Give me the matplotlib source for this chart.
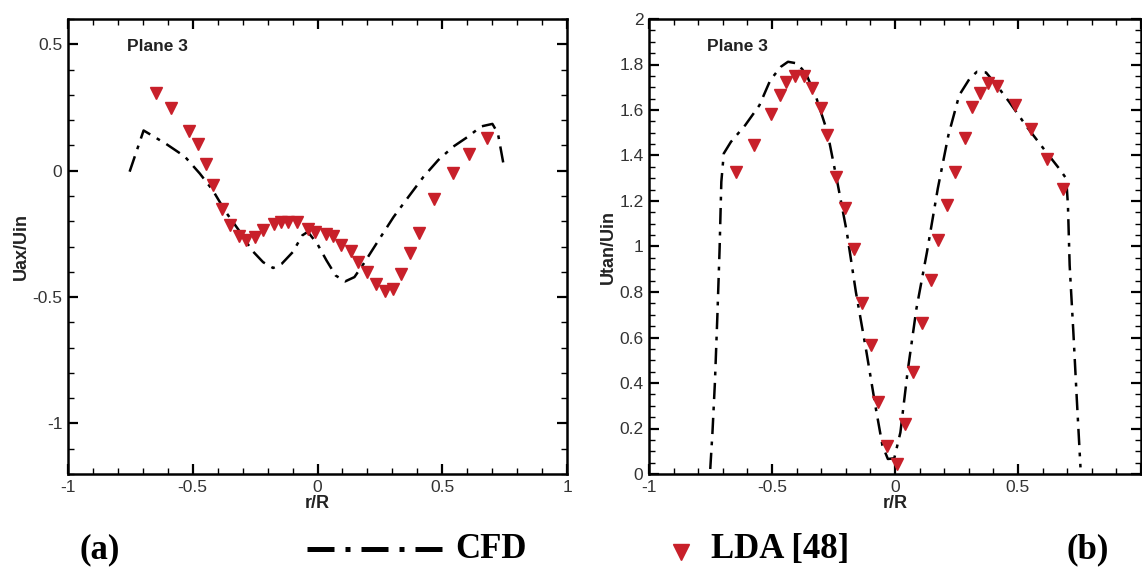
import matplotlib
matplotlib.use("Agg")
import matplotlib.pyplot as plt
from matplotlib.lines import Line2D
from matplotlib.ticker import MultipleLocator

# Plane 3, axial velocity (a)
ax_lda_r = [-0.649, -0.587, -0.516, -0.477, -0.447, -0.417, -0.383, -0.350, -0.315,
            -0.287, -0.251, -0.218, -0.176, -0.148, -0.117, -0.084, -0.039, -0.009,
            0.033, 0.061, 0.096, 0.133, 0.163, 0.197, 0.233, 0.269, 0.302, 0.335,
            0.372, 0.405, 0.466, 0.544, 0.607, 0.679]
ax_lda_u = [0.307, 0.248, 0.155, 0.105, 0.025, -0.058, -0.150, -0.213, -0.260,
            -0.273, -0.262, -0.233, -0.212, -0.203, -0.203, -0.203, -0.229, -0.244,
            -0.249, -0.260, -0.293, -0.318, -0.362, -0.401, -0.448, -0.477, -0.468,
            -0.408, -0.325, -0.245, -0.114, -0.011, 0.065, 0.131]
ax_cfd_r = [-0.753, -0.697, -0.607, -0.532, -0.472, -0.420, -0.368, -0.315, -0.263,
            -0.218, -0.178, -0.143, -0.099, -0.061, -0.039, -0.001, 0.036, 0.073,
            0.111, 0.148, 0.185, 0.245, 0.305, 0.365, 0.425, 0.484, 0.544, 0.604,
            0.656, 0.701, 0.723, 0.746]
ax_cfd_u = [-0.004, 0.159, 0.106, 0.056, -0.011, -0.077, -0.163, -0.236, -0.315,
            -0.362, -0.385, -0.368, -0.322, -0.256, -0.242, -0.289, -0.355, -0.415,
            -0.438, -0.421, -0.368, -0.275, -0.183, -0.103, -0.024, 0.042, 0.095,
            0.135, 0.175, 0.185, 0.148, 0.023]

# Plane 3, tangential velocity (b)
tan_lda_r = [-0.645, -0.572, -0.503, -0.468, -0.443, -0.406, -0.370, -0.336, -0.300,
             -0.278, -0.241, -0.203, -0.167, -0.133, -0.096, -0.068, -0.033, 0.009,
             0.039, 0.072, 0.109, 0.148, 0.174, 0.210, 0.243, 0.283, 0.314, 0.345,
             0.377, 0.413, 0.486, 0.554, 0.616, 0.684]
tan_lda_u = [1.328, 1.445, 1.582, 1.668, 1.721, 1.751, 1.751, 1.698, 1.610,
             1.489, 1.306, 1.170, 0.988, 0.753, 0.565, 0.315, 0.125, 0.044,
             0.220, 0.448, 0.665, 0.851, 1.027, 1.184, 1.328, 1.475, 1.614, 1.673,
             1.717, 1.707, 1.624, 1.516, 1.384, 1.252]
tan_cfd_r = [-0.751, -0.742, -0.732, -0.722, -0.713, -0.706, -0.696, -0.667, -0.609,
             -0.551, -0.507, -0.464, -0.435, -0.399, -0.362, -0.319, -0.275, -0.232,
             -0.196, -0.159, -0.116, -0.080, -0.051, -0.029, -0.003, 0.022, 0.051,
             0.087, 0.130, 0.174, 0.217, 0.261, 0.304, 0.333, 0.370, 0.413, 0.464,
             0.536, 0.609, 0.667, 0.696, 0.703, 0.710, 0.725, 0.739, 0.754]
tan_cfd_u = [0.022, 0.183, 0.404, 0.697, 0.990, 1.284, 1.409, 1.460, 1.533,
             1.621, 1.731, 1.790, 1.812, 1.805, 1.761, 1.651, 1.504, 1.269,
             1.064, 0.800, 0.536, 0.301, 0.125, 0.066, 0.069, 0.183, 0.448,
             0.726, 0.976, 1.255, 1.489, 1.665, 1.739, 1.768, 1.765, 1.709, 1.636,
             1.526, 1.423, 1.343, 1.299, 1.181, 0.917, 0.624, 0.330, 0.029]

RED = "#C8202A"
TICK_GREY = "#333333"
CFD_DASH = (0, (6.5, 3, 1.5, 3))

plt.rcParams["font.family"] = ["Liberation Sans", "DejaVu Sans"]

fig = plt.figure(figsize=(11.42, 5.68), dpi=100)


def style_axes(ax, ylabel, xmin, xmax, ymin, ymax, ymajor, yminor, hide_last_x=False):
    ax.set_xlim(xmin, xmax)
    ax.set_ylim(ymin, ymax)
    ax.xaxis.set_major_locator(MultipleLocator(0.5))
    ax.xaxis.set_minor_locator(MultipleLocator(0.1))
    ax.yaxis.set_major_locator(MultipleLocator(ymajor))
    ax.yaxis.set_minor_locator(MultipleLocator(yminor))
    if hide_last_x:
        # the reference crops the right panel's "1" label off the image
        ax.xaxis.set_major_formatter(lambda v, p: "" if v > 0.99 else f"{v:g}")
    else:
        ax.xaxis.set_major_formatter(lambda v, p: f"{v:g}")
    ax.yaxis.set_major_formatter(lambda v, p: f"{v:g}")
    ax.tick_params(which="both", direction="in", top=True, right=True,
                   labelsize=12.5, labelcolor=TICK_GREY, pad=4)
    ax.tick_params(which="major", length=7, width=1.6)
    ax.tick_params(which="minor", length=4, width=1.0)
    for s in ax.spines.values():
        s.set_linewidth(1.8)
    ax.set_xlabel("r/R", fontsize=13, fontweight="bold", color="#222222", labelpad=0)
    ax.set_ylabel(ylabel, fontsize=13, fontweight="bold", color="#222222", labelpad=2)
    ax.text(0.118, 0.94, "Plane 3", transform=ax.transAxes, fontsize=12.5,
            fontweight="bold", color="#222222", va="center", ha="left")


ax1 = fig.add_axes([68 / 1142, 94 / 568, 499 / 1142, 455 / 568])
ax1.plot(ax_cfd_r, ax_cfd_u, color="black", lw=1.8, linestyle=CFD_DASH)
ax1.plot(ax_lda_r, ax_lda_u, linestyle="none", marker="v", markersize=8.5,
         color=RED, markeredgecolor=RED)
style_axes(ax1, "Uax/Uin", -1, 1, -1.2, 0.6, 0.5, 0.1)

ax2 = fig.add_axes([649 / 1142, 94 / 568, 492 / 1142, 455 / 568])
ax2.plot(tan_cfd_r, tan_cfd_u, color="black", lw=1.8, linestyle=CFD_DASH)
ax2.plot(tan_lda_r, tan_lda_u, linestyle="none", marker="v", markersize=8.5,
         color=RED, markeredgecolor=RED)
style_axes(ax2, "Utan/Uin", -1, 1, 0, 2, 0.2, 0.05, hide_last_x=True)

# bottom legend / panel tags
serif = ["Liberation Serif", "DejaVu Serif"]
base_y = 10 / 568
fig.text(100 / 1142, base_y, "(a)", family=serif, fontsize=25, fontweight="bold",
         ha="center", va="baseline")
fig.add_artist(Line2D([307 / 1142, 445 / 1142], [19 / 568, 19 / 568],
                      transform=fig.transFigure, color="black", lw=3.6,
                      linestyle=(0, (5.4, 2.2, 1, 2.2))))
fig.text(455 / 1142, base_y, "CFD", family=serif, fontsize=25, fontweight="bold",
         ha="left", va="baseline")
fig.add_artist(Line2D([681 / 1142], [16 / 568], transform=fig.transFigure,
                      linestyle="none", marker="v", markersize=11,
                      color=RED, markeredgecolor=RED))
fig.text(711 / 1142, base_y, "LDA [48]", family=serif, fontsize=25, fontweight="bold",
         ha="left", va="baseline")
fig.text(1088 / 1142, base_y, "(b)", family=serif, fontsize=25, fontweight="bold",
         ha="center", va="baseline")

fig.savefig("out.png", dpi=100)
